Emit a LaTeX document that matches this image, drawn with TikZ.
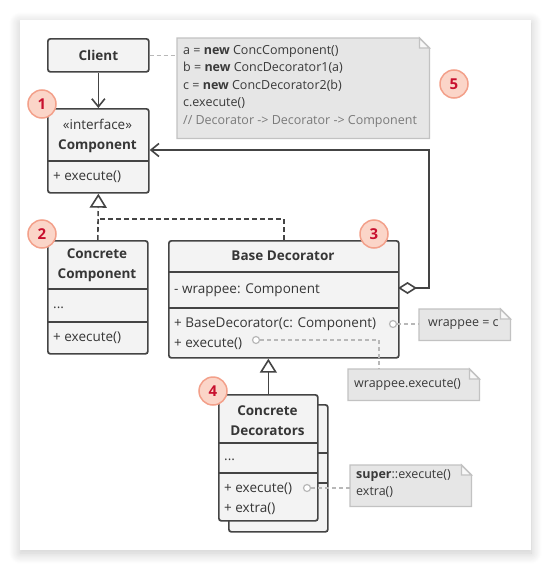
\documentclass[tikz,border=0pt]{standalone}
\usepackage{fontspec}
\setmainfont{Open Sans}
\usetikzlibrary{arrows.meta,shadows.blur}
\definecolor{ink}{HTML}{363636}
\definecolor{boxline}{HTML}{444444}
\definecolor{boxfill}{HTML}{F3F3F3}
\definecolor{notefill}{HTML}{E6E6E6}
\definecolor{noteline}{HTML}{C2C2C2}
\definecolor{notetext}{HTML}{3A3A3A}
\definecolor{commentgray}{HTML}{7A7A7A}
\definecolor{linkgray}{HTML}{B8B8B8}
\definecolor{badgefill}{HTML}{FBD5C8}
\definecolor{badgeline}{HTML}{F3A08A}
\definecolor{badgetext}{HTML}{C8102E}
\pgfdeclarelayer{cardlayer}
\pgfdeclarelayer{notelayer}
\pgfsetlayers{cardlayer,notelayer,main}
\newcommand\txtfont{\fontsize{13.5}{20}\selectfont}
\newcommand\notefont{\fontsize{12.5}{17.5}\selectfont}
% folded-corner note drawn behind its text node
\newcommand\notefold[1]{%
  \begin{pgfonlayer}{notelayer}
    \draw[notebody] (#1.north west) -- ([xshift=-10pt]#1.north east)
      -- ([yshift=-10pt]#1.north east) -- (#1.south east)
      -- (#1.south west) -- cycle;
    \draw[notebody, fill=white!70!notefill] ([xshift=-10pt]#1.north east)
      -- ([xshift=-10pt,yshift=-10pt]#1.north east)
      -- ([yshift=-10pt]#1.north east) -- cycle;
  \end{pgfonlayer}}
\begin{document}
\begin{tikzpicture}[x=1pt,y=-1pt,
  umlbox/.style={draw=boxline, fill=boxfill, line width=1.7pt,
    rounded corners=2.5pt, anchor=north west, inner sep=0pt},
  divider/.style={draw=boxline, line width=1.7pt},
  head/.style={font=\txtfont\bfseries, text=ink, align=center, inner sep=0pt},
  member/.style={font=\txtfont, text=ink, anchor=west, inner sep=0pt,
    text height=10pt, text depth=3pt},
  conn/.style={draw=boxline, line width=1.6pt},
  realize/.style={conn, dash pattern=on 5pt off 3pt},
  openbarb/.style={-{Straight Barb[length=8pt,width=13pt,line width=1.6pt]}},
  hollowtri/.style={-{Triangle[open,length=14pt,width=17pt,line width=1.6pt,fill=white]}},
  notebody/.style={draw=noteline, fill=notefill, line width=1.3pt},
  notebox/.style={anchor=north west, inner sep=0pt},
  notetxt/.style={font=\notefont, text=notetext, inner sep=0pt},
  notelink/.style={draw=linkgray, line width=1.3pt, dash pattern=on 4pt off 3pt},
  dot/.style={circle, draw=linkgray, fill=white, line width=1.2pt,
    minimum size=7pt, inner sep=0pt},
  badge/.style={circle, draw=badgeline, fill=badgefill, line width=1.5pt,
    minimum size=28pt, inner sep=0pt, text=badgetext,
    font=\fontsize{15}{15}\selectfont\bfseries}
]
\useasboundingbox (0,0) rectangle (551,570);

% white card with soft shadow
\begin{pgfonlayer}{cardlayer}
  \path[fill=white, blur shadow={shadow xshift=0pt, shadow yshift=-3pt,
    shadow blur radius=11pt, shadow blur steps=14, shadow opacity=22}]
    (20,20) rectangle (531,550);
\end{pgfonlayer}

% ---------- Client ----------
\node[umlbox, minimum width=101pt, minimum height=33pt] (client) at (47,38) {};
\node[head] (clientT) at (client.center) {Client};

% ---------- Component ----------
\node[umlbox, minimum width=101pt, minimum height=84pt] (comp) at (47,108) {};
\draw[divider] (47,161) -- (148,161);
\node[head] (compT) at (97.5,136) {\normalfont«interface»\\Component};
\node[member] (compM) at (53,176.5) {+ execute()};

% ---------- Concrete Component ----------
\node[umlbox, minimum width=100pt, minimum height=113pt] (cc) at (47,240) {};
\draw[divider] (47,289) -- (147,289);
\draw[divider] (47,322) -- (147,322);
\node[head] (ccT) at (97,265) {Concrete\\Component};
\node[member] (ccF) at (53,305) {...};
\node[member] (ccM) at (53,337.5) {+ execute()};

% ---------- Base Decorator ----------
\node[umlbox, minimum width=230pt, minimum height=117pt] (base) at (168,240) {};
\draw[divider] (168,272) -- (398,272);
\draw[divider] (168,308) -- (398,308);
\node[head] (baseT) at (283,256) {Base Decorator};
\node[member] (baseF) at (174,290) {- wrappee: Component};
\node[member] (baseC) at (174,324) {+ BaseDecorator(c: Component)};
\node[member] (baseM) at (174,344) {+ execute()};

% ---------- Concrete Decorators (stacked) ----------
\node[umlbox, minimum width=99pt, minimum height=127pt] (cdback) at (228,404) {};
\draw[divider] (317,453) -- (327,453);
\draw[divider] (317,483) -- (327,483);
\node[umlbox, minimum width=99pt, minimum height=126pt] (cd) at (218,394) {};
\draw[divider] (218,443) -- (317,443);
\draw[divider] (218,473) -- (317,473);
\node[head] (cdT) at (267.5,421) {Concrete\\Decorators};
\node[member] (cdF) at (224,457) {...};
\node[member] (cdM) at (224,489) {+ execute()};
\node[member] (cdX) at (224,508.5) {+ extra()};

% ---------- relations ----------
\draw[conn, openbarb] (client.south) -- (comp.north);
\draw[realize, hollowtri] (cc.north) -- (comp.south);
\draw[realize] (base.north) |- (97,219);
\draw[conn, hollowtri] (cd.north) -- (cd.north |- base.south);
\coordinate (aggA) at (398,288);
\coordinate (aggB) at (429,288);
\coordinate (aggC) at (429,150);
\draw[conn, {Diamond[open,length=19pt,width=12pt,line width=1.6pt,fill=white]}-{Straight Barb[length=8pt,width=13pt,line width=1.6pt]}]
  (aggA) -- (aggB) -- (aggC) -- (comp.east |- aggC);

% ---------- notes ----------
\node[notebox, minimum width=252pt, minimum height=100pt] (code) at (177,38) {};
\notefold{code}
\node[notetxt, anchor=north west, align=left] (codeT) at (183,45)
  {a = \textbf{new} ConcComponent()\\
   b = \textbf{new} ConcDecorator1(a)\\
   c = \textbf{new} ConcDecorator2(b)\\
   c.execute()\\
   \textcolor{commentgray}{// Decorator -> Decorator -> Component}};

\node[notebox, minimum width=91pt, minimum height=31pt] (wnote) at (419,309) {};
\notefold{wnote}
\node[notetxt, anchor=west] (wnoteT) at ([xshift=9pt]wnote.west) {wrappee = c};

\node[notebox, minimum width=131pt, minimum height=31pt] (wexec) at (348,369) {};
\notefold{wexec}
\node[notetxt, anchor=west] (wexecT) at ([xshift=6pt]wexec.west) {wrappee.execute()};

\node[notebox, minimum width=121pt, minimum height=41pt] (snote) at (350,465) {};
\notefold{snote}
\node[notetxt, anchor=north west, align=left] (snoteT) at (356,469)
  {\textbf{super}::execute()\\extra()};

% ---------- note links ----------
\draw[notelink] (client.east) -- (code.west |- client.east);
\node[dot] (d1) at (393,324) {};
\draw[notelink] (d1) -- (wnote.west |- d1);
\node[dot] (d2) at (256,340) {};
\coordinate (bend) at (379,340);
\draw[notelink] (d2) -- (bend) -- (bend |- wexec.north);
\node[dot] (d3) at (307,488) {};
\draw[notelink] (d3) -- (snote.west |- d3);

% ---------- numbered badges ----------
\node[badge] (b1) at (42,104) {1};
\node[badge] (b2) at (42,234) {2};
\node[badge] (b3) at (374,234) {3};
\node[badge] (b4) at (213,391) {4};
\node[badge] (b5) at (454,84) {5};
\end{tikzpicture}
\end{document}
